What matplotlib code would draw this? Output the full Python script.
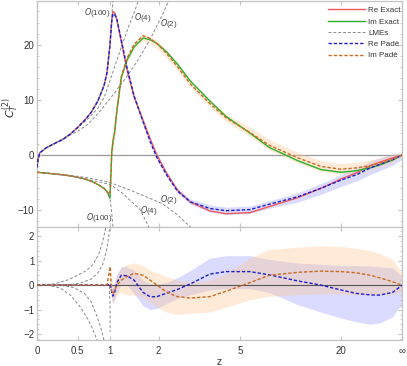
import matplotlib.pyplot as plt
import numpy as np
from matplotlib.ticker import MultipleLocator, NullLocator

plt.rcParams["font.family"] = ["Liberation Sans", "DejaVu Sans"]
plt.rcParams["mathtext.fontset"] = "dejavusans"

Z_INF = 1e9  # stands in for z = infinity on the compactified axis

# ── exact result and Padé (differences + error bands) on a common z grid ──────
z = np.array([0, 0.01, 0.03, 0.1, 0.2, 0.3, 0.4, 0.5, 0.6, 0.7,
              0.8, 0.9, 0.95, 1.0, 1.03, 1.05, 1.08, 1.12, 1.2, 1.31,
              1.45, 1.64, 1.8, 1.96, 2.2, 2.5, 2.9, 3.6, 4.3, 5.6,
              7, 10, 14, 20, 28, 42, 60, 150, 400, Z_INF])
re_exact = np.array([-2.2, -0.8, 0.4, 1.3, 2.1, 2.8, 3.8, 5.0, 6.3, 7.8,
                     9.8, 12.6, 15.0, 20.0, 24.5, 26.0, 25.8, 24.5, 20.5, 15.4,
                     10.5, 6.3, 2.9, 0.0, -3.2, -6.3, -8.5, -10.1, -10.6, -10.4,
                     -9.3, -7.7, -6.0, -4.3, -3.2, -1.9, -1.3, -0.5, -0.2, 0.0])
im_exact = np.array([-3.1, -3.1, -3.15, -3.25, -3.4, -3.55, -3.75, -4.0, -4.3, -4.7,
                     -5.3, -6.0, -6.6, -7.8, 0.5, 2.5, 4.2, 8.0, 14.0, 17.2,
                     19.6, 21.2, 20.9, 20.2, 18.7, 16.5, 13.4, 9.8, 7.0, 4.0,
                     1.4, -1.0, -2.6, -3.1, -2.8, -2.3, -1.8, -0.9, -0.3, 0.0])
re_pade_diff = np.array([0, 0, 0, 0, 0, 0, 0, 0, 0, 0,
                         0, 0, 0, 0.05, -0.3, -0.45, -0.3, 0.1, 0.4, 0.38,
                         0.2, -0.3, -0.48, -0.47, -0.33, -0.18, 0.05, 0.45, 0.55, 0.55,
                         0.42, 0.17, 0.0, -0.2, -0.34, -0.4, -0.41, -0.3, -0.12, 0.0])
im_pade_diff = np.array([0, 0, 0, 0, 0, 0, 0, 0, 0, 0,
                         0, 0, 0, 0.75, -0.3, -0.35, -0.2, 0.0, 0.2, 0.35,
                         0.48, 0.4, 0.2, 0.0, -0.28, -0.47, -0.53, -0.47, -0.25, 0.1,
                         0.4, 0.52, 0.57, 0.55, 0.5, 0.4, 0.3, 0.14, 0.05, 0.0])
re_band_lo = np.array([0, 0, 0, 0, 0, 0, 0, 0, 0, 0,
                       0, 0, 0, -0.05, -0.6, -0.75, -0.6, -0.3, 0.0, 0.0,
                       -0.35, -0.85, -1.0, -0.95, -0.75, -0.55, -0.4, -0.2, -0.15, -0.15,
                       -0.3, -0.8, -1.1, -1.35, -1.5, -1.6, -1.55, -1.3, -0.95, -0.85])
re_band_hi = np.array([0, 0, 0, 0, 0, 0, 0, 0, 0, 0,
                       0, 0, 0, 0.1, 0.0, -0.1, 0.1, 0.45, 0.75, 0.75,
                       0.6, 0.2, 0.05, 0.05, 0.1, 0.3, 0.6, 1.1, 1.2, 1.2,
                       1.05, 0.9, 0.85, 0.8, 0.8, 0.78, 0.75, 0.7, 0.5, 0.3])
im_band_lo = np.array([0, 0, 0, 0, 0, 0, 0, 0, 0, 0,
                       0, 0, 0, 0.55, -0.6, -0.7, -0.6, -0.4, -0.3, -0.4,
                       -0.4, -0.5, -0.7, -0.9, -1.1, -1.2, -1.15, -1.1, -0.9, -0.6,
                       -0.45, -0.4, -0.35, -0.35, -0.4, -0.4, -0.4, -0.35, -0.3, -0.3])
im_band_hi = np.array([0, 0, 0, 0, 0, 0, 0, 0, 0, 0,
                       0, 0, 0, 0.9, 0.0, 0.0, 0.2, 0.4, 0.7, 0.85,
                       0.9, 0.8, 0.6, 0.5, 0.35, 0.2, 0.1, 0.2, 0.45, 1.1,
                       1.45, 1.55, 1.6, 1.58, 1.5, 1.4, 1.3, 1.05, 0.7, 0.5])

# ── large-mass expansions (top panel) ─────────────────────────────────────────
re_o2_z = [0, 0.03, 0.1, 0.2, 0.35, 0.5, 0.65, 0.8, 1.0, 1.25, 1.5, 1.8, 2.1, 2.4]
re_o2 = [-2.2, 0.4, 1.3, 2.1, 3.3, 4.3, 5.6, 7.5, 10.2, 13.5, 16.8, 21.0, 25.5, 30.0]
re_o4_z = [0, 0.03, 0.1, 0.2, 0.35, 0.5, 0.65, 0.8, 0.9, 1.0, 1.2, 1.35, 1.5, 1.62]
re_o4 = [-2.2, 0.4, 1.3, 2.1, 3.3, 4.95, 6.6, 8.5, 10.4, 13.5, 19.5, 23.5, 27.0, 30.0]
re_o100_z = [0, 0.01, 0.03, 0.1, 0.2, 0.3, 0.4, 0.5, 0.6, 0.7, 0.8, 0.9, 0.95,
             1.0, 1.03, 1.05, 1.065]
re_o100 = [-2.2, -0.8, 0.4, 1.3, 2.1, 2.8, 3.8, 5.0, 6.3, 7.8, 9.8, 12.6, 15.0,
           20.3, 25.0, 28.0, 31.0]
im_o2_z = [0, 0.2, 0.4, 0.6, 0.8, 1.0, 1.36, 1.7, 2.1, 2.5, 3.0]
im_o2 = [-3.1, -3.35, -3.65, -4.0, -4.45, -4.95, -6.3, -7.5, -8.8, -10.8, -13.5]
im_o4_z = [0, 0.2, 0.4, 0.6, 0.8, 1.0, 1.2, 1.36, 1.57, 1.8]
im_o4 = [-3.1, -3.4, -3.75, -4.25, -4.8, -5.3, -6.7, -8.1, -9.8, -13.5]
im_o100_z = [0, 0.2, 0.4, 0.6, 0.8, 0.9, 0.95, 1.0, 1.03, 1.06]
im_o100 = [-3.1, -3.4, -3.75, -4.3, -5.3, -6.0, -6.6, -8.0, -10.5, -14.0]

# ── large-mass expansions minus exact (bottom panel) ──────────────────────────
d_re_o2_z = [0, 0.15, 0.27, 0.4, 0.54, 0.65, 0.72, 0.79, 0.83]
d_re_o2 = [0, -0.02, -0.12, -0.4, -0.9, -1.4, -1.8, -2.25, -2.6]
d_re_o4_z = [0, 0.3, 0.45, 0.6, 0.7, 0.79, 0.85, 0.9, 0.93]
d_re_o4 = [0, -0.02, -0.1, -0.35, -0.7, -1.3, -1.75, -2.25, -2.6]
d_im_o2_z = [0, 0.2, 0.36, 0.5, 0.63, 0.73, 0.82, 0.88, 0.93, 0.95]
d_im_o2 = [0, 0.05, 0.2, 0.4, 0.6, 0.85, 1.3, 1.8, 2.35, 2.6]
d_im_o4_z = [0, 0.4, 0.54, 0.7, 0.8, 0.88, 0.94, 0.98, 1.0]
d_im_o4 = [0, 0.02, 0.08, 0.25, 0.5, 0.85, 1.4, 2.0, 2.6]
d_o100_z = [0, 0.9, 0.97, 0.99, 1.0, 1.004]
d_o100 = [0, 0, 0, -0.05, -0.8, -1.9]

x_ticks = [0, 0.5, 1, 2, 5, 20, Z_INF]
x_ticklabels = ["0", "0.5", "1", "2", "5", "20", "\u221e"]

# order labels: (text, z, value)
top_labels = [("$O$(100)", 0.79, 25.9), ("$O$(4)", 1.64, 25.0), ("$O$(2)", 2.27, 23.9),
              ("$O$(100)", 0.83, -11.2), ("$O$(4)", 1.77, -10.1), ("$O$(2)", 2.27, -8.0)]


# compactified axis: t = z / (z + 4)
def fwd(v):
    v = np.asarray(v, dtype=float)
    with np.errstate(divide="ignore", invalid="ignore"):
        return v / (v + 4.0)


def inv(t):
    t = np.asarray(t, dtype=float)
    return 4.0 * t / np.clip(1.0 - t, 1e-12, None)


# ── styles ────────────────────────────────────────────────────────────────────
c_re, c_im = "#ee5a5a", "#27b027"
c_lme = "#8a8a8a"
c_rp, c_ip = "#1c1cd0", "#cc6a22"
frame = "#c4c4c4"
lme_kw = dict(color=c_lme, lw=0.7, dashes=(3, 2))
pade_dash = (2.4, 1.4)

fig = plt.figure(figsize=(4.07, 3.66), dpi=100)
W, H = 407, 366
ax_top = fig.add_axes([37 / W, 1 - 227 / H, 365 / W, 226 / H])
ax_bot = fig.add_axes([37 / W, 1 - 340 / H, 365 / W, 113 / H])

for ax in (ax_top, ax_bot):
    ax.set_xscale("function", functions=(fwd, inv))
    ax.set_xlim(0, Z_INF)
    ax.set_xticks(x_ticks)
    ax.set_xticklabels(x_ticklabels)
    ax.xaxis.set_minor_locator(NullLocator())
    for sp in ax.spines.values():
        sp.set_color(frame)
        sp.set_linewidth(0.9)
    ax.tick_params(which="both", direction="in", top=True, right=True,
                   color=frame, labelcolor="#333333", labelsize=7, pad=2)
    ax.tick_params(which="major", length=3)
    ax.tick_params(which="minor", length=1.6)
ax_bot.tick_params(axis="x", pad=4)

# ── top panel ─────────────────────────────────────────────────────────────────
ax_top.axhline(0, color="#9a9a9a", lw=0.9, zorder=1)
ax_top.fill_between(z, re_exact + re_band_lo, re_exact + re_band_hi,
                    color="#aeb0ff", alpha=0.45, lw=0, zorder=2)
ax_top.fill_between(z, im_exact + im_band_lo, im_exact + im_band_hi,
                    color="#ffc590", alpha=0.35, lw=0, zorder=2)

ax_top.plot(z, re_exact, color=c_re, lw=1.0, label="Re Exact", zorder=3)
ax_top.plot(z, im_exact, color=c_im, lw=1.0, label="Im Exact", zorder=3)
ax_top.plot(re_o2_z, re_o2, **lme_kw, label="LMEs", zorder=3)
for zz, vv in [(re_o4_z, re_o4), (re_o100_z, re_o100), (im_o2_z, im_o2),
               (im_o4_z, im_o4), (im_o100_z, im_o100)]:
    ax_top.plot(zz, vv, **lme_kw, zorder=3)
ax_top.plot(z, re_exact + re_pade_diff, color=c_rp, lw=1.0, dashes=pade_dash,
            label="Re Pad\u00e8", zorder=4)
ax_top.plot(z, im_exact + im_pade_diff, color=c_ip, lw=1.0, dashes=pade_dash,
            label="Im Pad\u00e8", zorder=4)

for txt, zx, yv in top_labels:
    ax_top.text(zx, yv, txt, fontsize=5.8, color="#444444", ha="center", va="center")

ax_top.set_ylim(-13.0, 27.9)
ax_top.yaxis.set_major_locator(MultipleLocator(10))
ax_top.yaxis.set_minor_locator(MultipleLocator(2))
ax_top.tick_params(labelbottom=False)
ax_top.set_ylabel(r"$C_T^{(2)}$", fontsize=8, color="#333333")
ax_top.yaxis.set_label_coords(-0.045, 0.53)

leg = ax_top.legend(loc="upper right", bbox_to_anchor=(1.012, 1.0), frameon=False,
                    fontsize=5.8, handlelength=4.6, handletextpad=0.4,
                    labelspacing=0.45, borderaxespad=0.3)
for t in leg.get_texts():
    t.set_color("#333333")

# ── bottom panel ──────────────────────────────────────────────────────────────
ax_bot.fill_between(z, re_band_lo, re_band_hi, color="#aeb0ff", alpha=0.45,
                    lw=0, zorder=2)
ax_bot.fill_between(z, im_band_lo, im_band_hi, color="#ffc590", alpha=0.35,
                    lw=0, zorder=2)
ax_bot.axhline(0, color="#555555", lw=0.8, zorder=3)
for zz, vv in [(d_re_o2_z, d_re_o2), (d_re_o4_z, d_re_o4), (d_im_o2_z, d_im_o2),
               (d_im_o4_z, d_im_o4), (d_o100_z, d_o100)]:
    ax_bot.plot(zz, vv, **lme_kw, zorder=3)
ax_bot.plot(z, re_pade_diff, color=c_rp, lw=1.0, dashes=pade_dash, zorder=4)
ax_bot.plot(z, im_pade_diff, color=c_ip, lw=1.0, dashes=pade_dash, zorder=4)

ax_bot.set_ylim(-2.24, 2.37)
ax_bot.yaxis.set_major_locator(MultipleLocator(1))
ax_bot.yaxis.set_minor_locator(MultipleLocator(0.2))
ax_bot.set_xlabel("z", fontsize=7.5, color="#333333", labelpad=1)

fig.savefig("out.png", dpi=100)
